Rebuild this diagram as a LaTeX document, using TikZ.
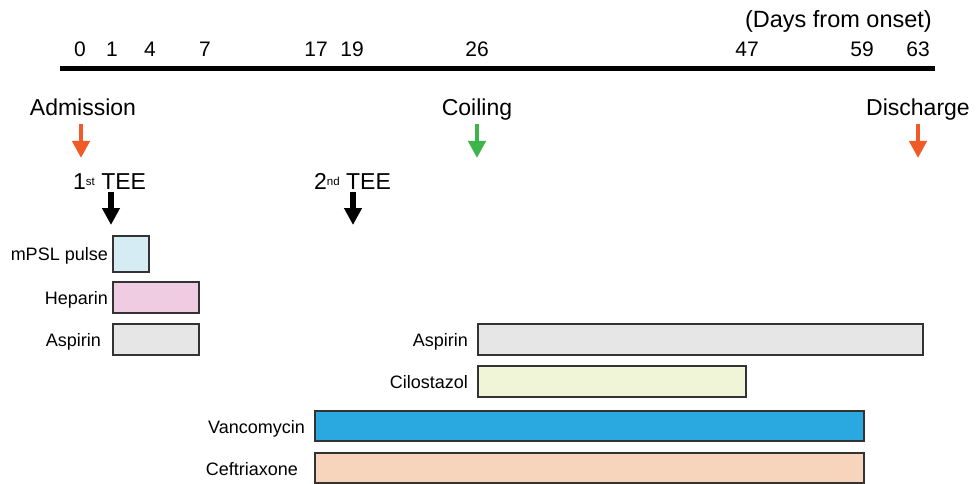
\documentclass[tikz,border=0pt]{standalone}
\usepackage{fontspec}
\setmainfont{Liberation Sans}
\usetikzlibrary{arrows.meta}
\definecolor{orangeA}{HTML}{F05A28}
\definecolor{greenA}{HTML}{3DB54A}
\definecolor{mpslC}{HTML}{D5ECF4}
\definecolor{hepC}{HTML}{F0CCE3}
\definecolor{aspC}{HTML}{E6E6E6}
\definecolor{ciloC}{HTML}{EFF5D6}
\definecolor{vancoC}{HTML}{29A9E0}
\definecolor{ceftC}{HTML}{F7D5BD}
\definecolor{edgeC}{HTML}{333333}
\newcommand{\supsm}[1]{{\fontsize{11.5}{11.5}\selectfont\raisebox{3.5pt}{#1}}}
\begin{document}
\begin{tikzpicture}[x=1pt,y=-1pt,
  daynum/.style={font=\fontsize{21}{21}\selectfont, anchor=base, inner sep=0pt},
  evlabel/.style={font=\fontsize{23}{23}\selectfont, anchor=base, inner sep=0pt},
  druglabel/.style={font=\fontsize{18}{18}\selectfont, anchor=base east, inner sep=0pt},
  bar/.style={draw=edgeC, line width=1.3pt},
  bigarrow/.style={line width=4.6pt, -{Triangle[width=17pt,length=17pt]}},
  blkarrow/.style={line width=5.8pt, -{Triangle[width=17pt,length=17pt]}}
]
\useasboundingbox (0,0) rectangle (977,484);
% timeline
\coordinate (tlA) at (60,69);
\coordinate (tlB) at (935,69);
\draw[line width=5pt] (tlA) -- (tlB);
\node[font=\fontsize{23.5}{23.5}\selectfont, anchor=base east, inner sep=0pt] (unit) at (932,28) {(Days from onset)};
\node[daynum] (d0) at (80,57) {0};
\node[daynum] (d1) at (112,57) {1};
\node[daynum] (d4) at (150,57) {4};
\node[daynum] (d7) at (205,57) {7};
\node[daynum] (d17) at (316,57) {17};
\node[daynum] (d19) at (352,57) {19};
\node[daynum] (d26) at (477,57) {26};
\node[daynum] (d47) at (747,57) {47};
\node[daynum] (d59) at (862,57) {59};
\node[daynum] (d63) at (918,57) {63};
% events
\node[evlabel] (adm) at (83,116) {Admission};
\node[evlabel] (coil) at (477,116) {Coiling};
\node[evlabel] (dis) at (918,116) {Discharge};
\coordinate (admA) at (81,124); \coordinate (admB) at (81,158);
\coordinate (coilA) at (477,124); \coordinate (coilB) at (477,158);
\coordinate (disA) at (918,124); \coordinate (disB) at (918,158);
\draw[bigarrow, orangeA] (admA) -- (admB);
\draw[bigarrow, greenA] (coilA) -- (coilB);
\draw[bigarrow, orangeA] (disA) -- (disB);
\node[evlabel, anchor=base west] (tee1) at (73,189) {1\supsm{st} TEE};
\node[evlabel, anchor=base west] (tee2) at (314,189) {2\supsm{nd} TEE};
\coordinate (t1A) at (111,192); \coordinate (t1B) at (111,225);
\coordinate (t2A) at (353,192); \coordinate (t2B) at (353,225);
\draw[blkarrow, black] (t1A) -- (t1B);
\draw[blkarrow, black] (t2A) -- (t2B);
% bars
\draw[bar, fill=mpslC] (113,236) rectangle (149,272);
\draw[bar, fill=hepC] (113,282) rectangle (199,313);
\draw[bar, fill=aspC] (113,324) rectangle (199,355);
\draw[bar, fill=aspC] (478,324) rectangle (923,355);
\draw[bar, fill=ciloC] (478,366) rectangle (746,397);
\draw[bar, fill=vancoC] (315,411) rectangle (864,441);
\draw[bar, fill=ceftC] (315,453) rectangle (864,483);
% drug labels
\node[druglabel] (lmpsl) at (108,260) {mPSL pulse};
\node[druglabel] (lhep) at (108,304) {Heparin};
\node[druglabel] (lasp1) at (101,346) {Aspirin};
\node[druglabel] (lasp2) at (468,346) {Aspirin};
\node[druglabel] (lcilo) at (468,388) {Cilostazol};
\node[druglabel] (lvanco) at (305,433) {Vancomycin};
\node[druglabel] (lceft) at (298,475) {Ceftriaxone};
\end{tikzpicture}
\end{document}
